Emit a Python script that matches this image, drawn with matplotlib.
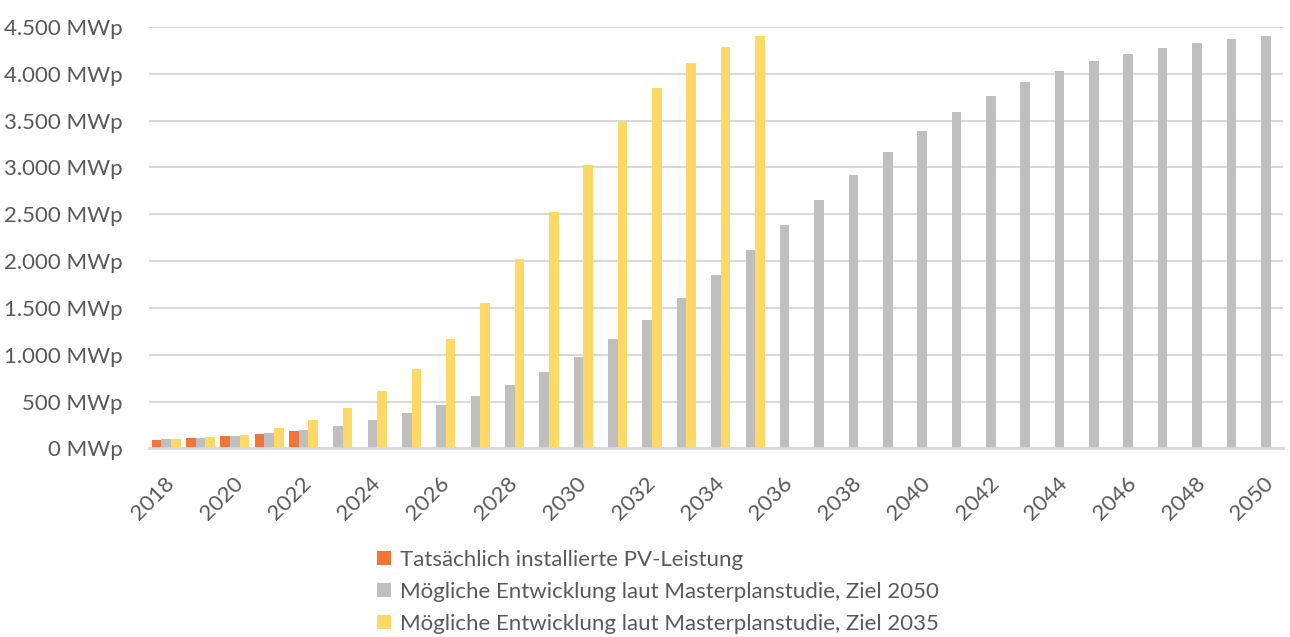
import numpy as np
import matplotlib
matplotlib.use("Agg")
import matplotlib.pyplot as plt
from matplotlib.ticker import FuncFormatter, MultipleLocator
import matplotlib.transforms as mtransforms

# Jahre und Werte (MWp)
years = np.arange(2018, 2051)
actual_years = np.arange(2018, 2023)
actual = [92, 107, 128, 149, 185]
target2050 = [96, 110, 132, 164, 198, 245, 306, 377, 459, 558, 679, 818, 978,
              1166, 1376, 1607, 1856, 2119, 2382, 2656, 2916, 3161, 3389, 3588,
              3762, 3912, 4032, 4132, 4214, 4274, 4328, 4367, 4399]
target2035_years = np.arange(2018, 2036)
target2035 = [96, 117, 142, 213, 302, 430, 612, 853, 1166, 1557, 2020, 2521,
              3030, 3481, 3851, 4111, 4289, 4399]

labels = ["Tatsächlich installierte PV-Leistung",
          "Mögliche Entwicklung laut Masterplanstudie, Ziel 2050",
          "Mögliche Entwicklung laut Masterplanstudie, Ziel 2035"]
colors = ["#F07536", "#BFBFBF", "#FFD966"]
text_color = "#595959"
grid_color = "#D9D9D9"

plt.rcParams['font.family'] = ['Lato', 'DejaVu Sans']

fig = plt.figure(figsize=(12.9, 6.37), dpi=100)
ax = fig.add_axes([0.1155, 0.296, 0.879, 0.6616])

w = 0.28
ax.bar(actual_years - w, actual, width=w, color=colors[0], label=labels[0], zorder=3)
ax.bar(years, target2050, width=w, color=colors[1], label=labels[1], zorder=3)
ax.bar(target2035_years + w, target2035, width=w, color=colors[2], label=labels[2], zorder=3)

ax.set_xlim(2017.5, 2050.5)
ax.set_ylim(0, 4500)
ax.yaxis.set_major_locator(MultipleLocator(500))
ax.yaxis.set_major_formatter(FuncFormatter(lambda v, p: f"{int(v):,} MWp".replace(",", ".")))
ax.grid(axis='y', color=grid_color, linewidth=1.5, zorder=0)
ax.set_axisbelow(True)

for s in ["top", "right", "left"]:
    ax.spines[s].set_visible(False)
ax.spines["bottom"].set_color(grid_color)
ax.spines["bottom"].set_linewidth(2)
ax.spines["bottom"].set_zorder(4)

ax.set_xticks(np.arange(2018, 2051, 2))
ax.set_xticklabels([str(y) for y in range(2018, 2051, 2)])
ax.tick_params(axis='both', length=0, labelsize=16, colors=text_color)
ax.tick_params(axis='y', pad=19)
ax.tick_params(axis='x', pad=18)

# gedrehte Jahreszahlen etwas nach rechts schieben
offset = mtransforms.ScaledTranslation(12 / 100, 0, fig.dpi_scale_trans)
for lbl in ax.get_xticklabels():
    lbl.set_rotation(45)
    lbl.set_ha('right')
    lbl.set_va('top')
    lbl.set_transform(lbl.get_transform() + offset)

leg = fig.legend(loc='upper left', bbox_to_anchor=(0.2925, 0.137), frameon=False,
                 fontsize=16, labelcolor=text_color, handlelength=0.6,
                 handleheight=0.6, handletextpad=0.4, labelspacing=0.55,
                 borderaxespad=0, borderpad=0)

fig.savefig("out.png", dpi=100)
